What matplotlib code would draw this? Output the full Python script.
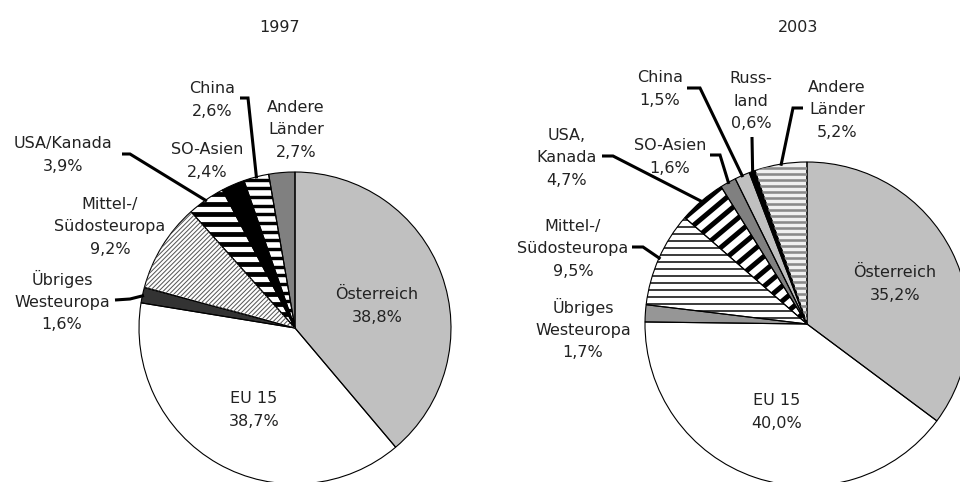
import matplotlib
matplotlib.use('Agg')
import matplotlib.pyplot as plt
from matplotlib.collections import LineCollection
import numpy as np

W, H = 960, 482

years = ['1997', '2003']

labels_97 = ['Österreich', 'EU 15', 'Übriges\nWesteuropa', 'Mittel-/\nSüdosteuropa',
             'USA/Kanada', 'SO-Asien', 'China', 'Andere\nLänder']
values_97 = [38.8, 38.7, 1.6, 9.2, 3.9, 2.4, 2.6, 2.7]

labels_03 = ['Österreich', 'EU 15', 'Übriges\nWesteuropa', 'Mittel-/\nSüdosteuropa',
             'USA,\nKanada', 'SO-Asien', 'China', 'Russ-\nland', 'Andere\nLänder']
values_03 = [35.2, 40.0, 1.7, 9.5, 4.7, 1.6, 1.5, 0.6, 5.2]

# wedge styles: facecolor, stripes (angle deg, period px, width px, color) or None
style_97 = [('#c0c0c0', None), ('white', None), ('#333333', None),
            ('white', (45, 3.2, 1.0, '#555555')),
            ('white', (0, 10, 4.8, 'black')),
            ('black', None),
            ('white', (0, 8.7, 3.4, 'black')),
            ('#808080', None)]
style_03 = [('#c0c0c0', None), ('white', None), ('#969696', None),
            ('white', (0, 7, 1.5, 'black')),
            ('white', (40, 11.5, 5.0, 'black')),
            ('#808080', None), ('#c0c0c0', None), ('black', None),
            ('#f0f0f0', (0, 6, 2.6, '#8a8a8a'))]

# layout in pixels (top-left origin)
centers = [(295, 328), (807, 324)]
radii = [156, 162]
title_pos = [(280, 27), (798, 27)]
text_pos_97 = [(377, 306), (254, 410), (62, 301), (110, 227), (63, 155),
               (207, 161), (212, 100), (296, 130)]
text_pos_03 = [(895, 284), (777, 412), (583, 329), (573, 249), (567, 158),
               (670, 157), (660, 89), (751, 101), (837, 110)]
# leader lines: wedge index -> (start, elbow)
leaders_97 = {2: ((115, 300), (130, 299)), 4: ((122, 154), (130, 154)),
              6: ((240, 98), (248, 98))}
leaders_03 = {3: ((632, 247), (643, 247)), 4: ((602, 156), (613, 156)),
              5: ((710, 155), (720, 155)), 6: ((687, 88), (700, 88)),
              7: ((752, 137), (752, 137)), 8: ((803, 108), (793, 108))}

plt.rcParams['font.family'] = ['DejaVu Sans']
fig = plt.figure(figsize=(W / 100, H / 100), dpi=100)
ax = fig.add_axes([0, 0, 1, 1])


def fy(y):
    return H - y


def fmt(v):
    return ('%.1f' % v).replace('.', ',') + '%'


def add_stripes(wedge, cx, cy, r, spec):
    ang, period, width, color = spec
    a = np.deg2rad(ang)
    d = np.array([np.cos(a), np.sin(a)])
    n = np.array([-np.sin(a), np.cos(a)])
    c = np.array([cx, cy])
    segs = [[c + n * o - d * r, c + n * o + d * r]
            for o in np.arange(-r, r, period)]
    lc = LineCollection(segs, colors=color, linewidths=width * 0.72)
    ax.add_collection(lc)
    lc.set_clip_path(wedge)


charts = [(labels_97, values_97, style_97, text_pos_97, leaders_97),
          (labels_03, values_03, style_03, text_pos_03, leaders_03)]

for k, (labels, values, style, tpos, leaders) in enumerate(charts):
    cx, cy = centers[k]
    r = radii[k]
    wedges, _ = ax.pie(values, center=(cx, fy(cy)), radius=r, startangle=90,
                       counterclock=False, colors=[s[0] for s in style],
                       wedgeprops=dict(linewidth=0))
    for w, (fc, spec) in zip(wedges, style):
        if spec:
            add_stripes(w, cx, fy(cy), r, spec)
    # outlines
    ax.pie(values, center=(cx, fy(cy)), radius=r, startangle=90,
           counterclock=False, colors=['none'] * len(values),
           wedgeprops=dict(edgecolor='black', linewidth=0.8, fill=False))
    for lab, v, (tx, ty) in zip(labels, values, tpos):
        ax.text(tx, fy(ty), lab + '\n' + fmt(v), ha='center', va='center',
                fontsize=11.5, linespacing=1.62, color='#222222')
    for i, (p0, p1) in leaders.items():
        w = wedges[i]
        a = np.deg2rad((w.theta1 + w.theta2) / 2)
        ex = cx + r * 0.99 * np.cos(a)
        ey = fy(cy) + r * 0.99 * np.sin(a)
        ax.plot([p0[0], p1[0], ex], [fy(p0[1]), fy(p1[1]), ey], color='black',
                linewidth=2.2, solid_joinstyle='miter', solid_capstyle='butt')
    ax.text(title_pos[k][0], fy(title_pos[k][1]), years[k], ha='center',
            va='center', fontsize=11.5, color='#222222')

ax.set_xlim(0, W)
ax.set_ylim(0, H)
ax.set_aspect('equal')
ax.axis('off')
fig.savefig('out.png', dpi=100)
